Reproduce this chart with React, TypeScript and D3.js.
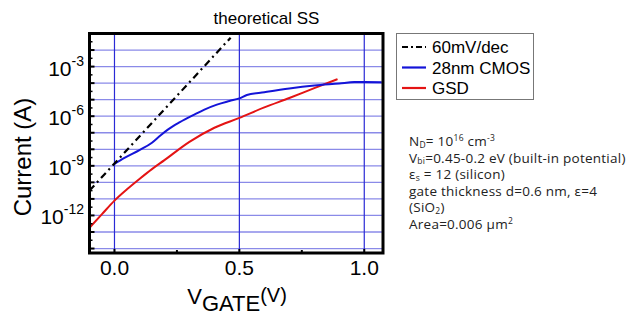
import React from "react";
import * as d3 from "d3";

const W = 640;
const H = 332;

// 60 mV/dec reference line
const refV = [-0.1, 0.465];
const refI = [3.2e-11, 5.6e-2];

// 28nm CMOS
const cmosV = [0, 0.04, 0.1, 0.15, 0.185, 0.215, 0.26, 0.32, 0.36, 0.41, 0.46, 0.5, 0.53, 0.6, 0.7, 0.8, 0.9, 0.96, 1.0, 1.07];
const cmosI = [1.3e-9, 3.0e-9, 8.9e-9, 2.5e-8, 7.1e-8, 1.6e-7, 4.2e-7, 1.26e-6, 2.5e-6, 5.0e-6, 8.3e-6, 1.2e-5, 1.9e-5, 2.8e-5, 4.7e-5, 7.1e-5, 9.5e-5, 1.15e-4, 1.15e-4, 1.12e-4];

// GSD
const gsdV = [-0.1, -0.05, 0, 0.05, 0.1, 0.15, 0.2, 0.3, 0.4, 0.5, 0.6, 0.7, 0.8, 0.893];
const gsdI = [1.8e-13, 1.2e-12, 7.9e-12, 3.8e-11, 1.6e-10, 6.3e-10, 2.2e-9, 2.8e-8, 2.0e-7, 7.9e-7, 3.4e-6, 1.26e-5, 5.0e-5, 1.74e-4];

const xTicks = [0, 0.5, 1.0];
const xMinorTicks = [0.25, 0.75];
const xTickLabels = ["0.0", "0.5", "1.0"];
const yLabelExps = [-3, -6, -9, -12];
const yGridExps = [-14, -13, -12, -11, -10, -9, -8, -7, -6, -5, -4, -3, -2];

const legendLabels = ["60mV/dec", "28nm CMOS", "GSD"];
const legendColors = ["#000000", "#1414d8", "#e41414"];

const PL = 89.5, PR = 383, PT = 33.5, PB = 253;

export default function App() {
  const x = d3.scaleLinear().domain([-0.1, 1.075]).range([PL, PR]);
  const y = d3.scaleLog().domain([Math.pow(10, -14.27), 0.1]).range([PB, PT]);
  const smooth = d3
    .line<[number, number]>()
    .x((d) => x(d[0]))
    .y((d) => y(d[1]))
    .curve(d3.curveMonotoneX);
  const straight = d3
    .line<[number, number]>()
    .x((d) => x(d[0]))
    .y((d) => y(d[1]));
  const zip = (a: number[], b: number[]) => a.map((v, i) => [v, b[i]] as [number, number]);

  const arial = "'Liberation Sans', Arial, sans-serif";
  const seg = "'Open Sans', 'Noto Sans', sans-serif";

  const minorY: number[] = [];
  yGridExps.forEach((e) => minorY.push(Math.pow(10, e + 0.5)));

  return (
    <svg width={W} height={H} style={{ position: "absolute", left: 0, top: 0, background: "#fff" }}>
      <defs>
        <clipPath id="clip">
          <rect x={PL} y={PT} width={PR - PL} height={PB - PT} />
        </clipPath>
      </defs>
      {/* title */}
      <text x={266.5} y={24} fontFamily={arial} fontSize={17} textAnchor="middle">
        theoretical SS
      </text>
      {/* horizontal grid */}
      {yGridExps.map((e) => (
        <line key={"h" + e} x1={PL} x2={PR} y1={y(Math.pow(10, e))} y2={y(Math.pow(10, e))} stroke="#8a8ae8" strokeWidth={1.3} />
      ))}
      {/* vertical grid */}
      {xTicks.map((t) => (
        <line key={"v" + t} x1={x(t)} x2={x(t)} y1={PT} y2={PB} stroke="#2a2ad6" strokeWidth={1.2} />
      ))}
      {/* curves */}
      <g clipPath="url(#clip)" fill="none">
        <path d={smooth(zip(gsdV, gsdI)) || ""} stroke={legendColors[2]} strokeWidth={2} />
        <path d={smooth(zip(cmosV, cmosI)) || ""} stroke={legendColors[1]} strokeWidth={2} />
        <path d={straight(zip(refV, refI)) || ""} stroke={legendColors[0]} strokeWidth={2.2} strokeDasharray="7,4,2,4" />
      </g>
      {/* ticks */}
      {yGridExps.map((e) => (
        <line key={"yt" + e} x1={PL} x2={PL + 5} y1={y(Math.pow(10, e))} y2={y(Math.pow(10, e))} stroke="#000" strokeWidth={2} />
      ))}
      {minorY.filter((v) => v < 0.1).map((v, i) => (
        <line key={"ym" + i} x1={PL} x2={PL + 3} y1={y(v)} y2={y(v)} stroke="#000" strokeWidth={1.5} />
      ))}
      {xTicks.map((t) => (
        <line key={"xt" + t} x1={x(t)} x2={x(t)} y1={PB} y2={PB - 4} stroke="#000" strokeWidth={2} />
      ))}
      {xMinorTicks.map((t) => (
        <line key={"xm" + t} x1={x(t)} x2={x(t)} y1={PB} y2={PB - 3} stroke="#000" strokeWidth={2} />
      ))}
      {/* frame */}
      <rect x={PL} y={PT} width={PR - PL} height={PB - PT} fill="none" stroke="#000" strokeWidth={3} />
      {/* x tick labels */}
      {xTicks.map((t, i) => (
        <text key={"xl" + t} x={x(t)} y={275} fontFamily={arial} fontSize={21} textAnchor="middle">
          {xTickLabels[i]}
        </text>
      ))}
      {/* y tick labels */}
      {yLabelExps.map((e) => (
        <text key={"yl" + e} x={84} y={y(Math.pow(10, e)) + 9} fontFamily={arial} fontSize={21} textAnchor="end">
          10
          <tspan fontSize={14} dy={-10}>{"-" + Math.abs(e)}</tspan>
        </text>
      ))}
      {/* axis titles */}
      <text transform="translate(31,157) rotate(-90)" fontFamily={arial} fontSize={24} textAnchor="middle">
        Current (A)
      </text>
      <text x={237} y={304} fontFamily={arial} fontSize={22} textAnchor="middle">
        V<tspan dy={7}>GATE</tspan>
        <tspan dy={-9} fontSize={20}>(V)</tspan>
      </text>
      {/* legend */}
      <rect x={396.5} y={33.5} width={137} height={66} fill="#fff" stroke="#777" strokeWidth={1} />
      {legendLabels.map((lab, i) => (
        <g key={lab}>
          <line
            x1={402}
            x2={426}
            y1={47 + i * 20.5}
            y2={47 + i * 20.5}
            stroke={legendColors[i]}
            strokeWidth={2.2}
            strokeDasharray={i === 0 ? "6,3,2,3" : undefined}
          />
          <text x={432} y={53 + i * 20.5} fontFamily={arial} fontSize={17}>
            {lab}
          </text>
        </g>
      ))}
      {/* annotation */}
      <g fontFamily={seg} fontSize={13.5} fill="#222" letterSpacing={0.25}>
        <text x={409} y={146}>
          N<tspan fontSize={8.5} dy={1.5}>D</tspan>
          <tspan dy={-1.5}>= 10</tspan>
          <tspan fontSize={8.5} dy={-5}>16</tspan>
          <tspan dy={5}> cm</tspan>
          <tspan fontSize={8.5} dy={-5}>-3</tspan>
        </text>
        <text x={409} y={162.6}>
          V<tspan fontSize={8.5} dy={1.5}>bi</tspan>
          <tspan dy={-1.5}>=0.45-0.2 eV (built-in potential)</tspan>
        </text>
        <text x={409} y={179.2}>
          ε<tspan fontSize={8.5} dy={1.5}>s</tspan>
          <tspan dy={-1.5}> = 12 (silicon)</tspan>
        </text>
        <text x={409} y={195.8}>gate thickness d=0.6 nm, ε=4</text>
        <text x={409} y={212.4}>
          (SiO<tspan fontSize={8.5} dy={1.5}>2</tspan>
          <tspan dy={-1.5}>)</tspan>
        </text>
        <text x={409} y={229}>
          Area=0.006 μm<tspan fontSize={8.5} dy={-5}>2</tspan>
        </text>
      </g>
    </svg>
  );
}
